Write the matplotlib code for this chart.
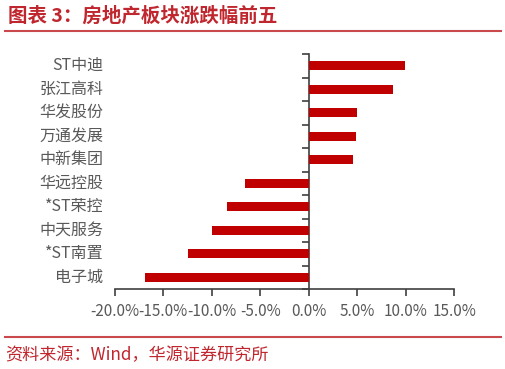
import matplotlib
matplotlib.use("Agg")
import matplotlib.pyplot as plt
import matplotlib.transforms as mtransforms
from matplotlib.lines import Line2D

plt.rcParams['font.family'] = ['Noto Sans CJK SC', 'DejaVu Sans']

categories = ["ST中迪", "张江高科", "华发股份", "万通发展", "中新集团",
              "华远控股", "*ST荣控", "中天服务", "*ST南置", "电子城"]
values = [9.9, 8.7, 5.0, 4.85, 4.6, -6.6, -8.45, -9.95, -12.45, -16.85]
xticks = [-20, -15, -10, -5, 0, 5, 10, 15]
xticklabels = ["-20.0%", "-15.0%", "-10.0%", "-5.0%", "0.0%", "5.0%", "10.0%", "15.0%"]
title = "图表 3：房地产板块涨跌幅前五"
source = "资料来源：Wind，华源证券研究所"

W, H = 506, 369
fig = plt.figure(figsize=(W / 100, H / 100), dpi=100)
ax = fig.add_axes([114.7 / W, 1 - 289 / H, (454.3 - 114.7) / W, (289 - 54) / H])

n = len(categories)
ypos = list(range(n))[::-1]
ax.barh(ypos, values, height=0.37, color="#C00000", zorder=3)

ax.set_xlim(-20, 15)
ax.set_ylim(-0.5, n - 0.5)
ax.set_xticks(xticks)
ax.set_xticklabels(xticklabels, fontsize=11, color="#595959")
ax.tick_params(axis='x', length=5, width=1.2, color="#404040", pad=5)

for s in ['top', 'right']:
    ax.spines[s].set_visible(False)
ax.spines['bottom'].set_color("#404040")
ax.spines['bottom'].set_linewidth(1.2)
ax.spines['left'].set_position(('data', 0))
ax.spines['left'].set_color("#404040")
ax.spines['left'].set_linewidth(1.2)
ax.set_yticks(ypos)
ax.set_yticklabels([])
ax.tick_params(axis='y', which='major', length=0)
ax.set_yticks([i - 0.5 for i in range(n + 1)], minor=True)
ax.tick_params(axis='y', which='minor', length=5, width=1.2, color="#404040", direction='out')

trans = mtransforms.blended_transform_factory(ax.transAxes, ax.transData)
for y, name in zip(ypos, categories):
    ax.text(-0.034, y, name, transform=trans, ha='right', va='center',
            fontsize=11.5, color="#595959")

red = "#C0262D"
fig.text(8 / W, 1 - 16 / H, title, fontsize=14, fontweight='bold', color=red,
         ha='left', va='center')
fig.add_artist(Line2D([5 / W, 501 / W], [1 - 30.5 / H, 1 - 30.5 / H],
                      transform=fig.transFigure, color="#C9494D", lw=1.5))
fig.add_artist(Line2D([5 / W, 501 / W], [1 - 336.5 / H, 1 - 336.5 / H],
                      transform=fig.transFigure, color="#C9494D", lw=1.5))
fig.text(5 / W, 1 - 355.5 / H, source, fontsize=12.3, color=red,
         ha='left', va='center')

fig.savefig("out.png", dpi=100)
